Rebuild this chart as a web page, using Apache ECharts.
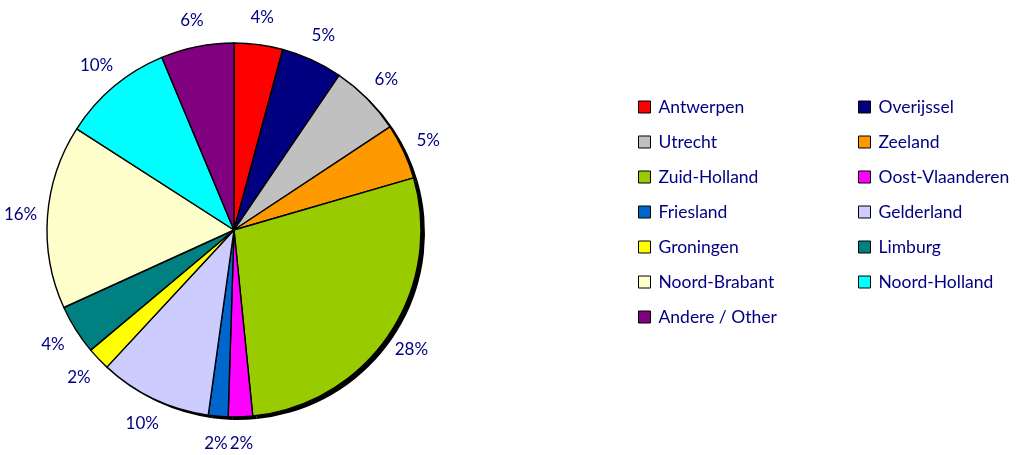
<!DOCTYPE html>
<html>
<head>
<meta charset="utf-8">
<script src="https://cdn.jsdelivr.net/npm/echarts@6/dist/echarts.min.js"></script>
<style>
  html, body { margin: 0; padding: 0; background: #fff; }
  #chart { width: 1018px; height: 455px; }
</style>
</head>
<body>
<div id="chart"></div>
<script>
const regions = ['Antwerpen', 'Overijssel', 'Utrecht', 'Zeeland', 'Zuid-Holland', 'Oost-Vlaanderen',
  'Friesland', 'Gelderland', 'Groningen', 'Limburg', 'Noord-Brabant', 'Noord-Holland', 'Andere / Other']
const shares = [4.2, 5.3, 6.2, 4.8, 27.9, 2.1, 1.7, 9.7, 2.0, 4.3, 15.9, 9.6, 6.3]
const colors = ['#FF0000', '#000080', '#C0C0C0', '#FF9900', '#99CC00', '#FF00FF',
  '#0066CC', '#CCCCFF', '#FFFF00', '#008080', '#FFFFCC', '#00FFFF', '#800080']

const textColor = '#000080'
const font = 'Lato'
const cx = 234, cy = 230, r = 187, labelR = 214

const pieData = regions.map((name, i) => ({ name, value: shares[i], itemStyle: { color: colors[i] } }))
const shadowData = regions.map((name, i) => ({ name, value: shares[i] }))

const legendBase = {
  orient: 'vertical',
  top: 93,
  icon: 'rect',
  itemWidth: 12,
  itemHeight: 12,
  itemGap: 17,
  selectedMode: false,
  itemStyle: { borderColor: '#000', borderWidth: 1 },
  textStyle: { color: textColor, fontFamily: font, fontSize: 17.5, lineHeight: 18, padding: [0, 0, 0, 3] }
}

const chart = echarts.init(document.getElementById('chart'))
chart.setOption({
  animation: false,
  legend: [
    { ...legendBase, left: 633, data: regions.filter((_, i) => i % 2 === 0) },
    { ...legendBase, left: 853, data: regions.filter((_, i) => i % 2 === 1) }
  ],
  series: [
    {
      type: 'pie',
      z: 3,
      center: [cx, cy],
      radius: r,
      startAngle: 90,
      clockwise: true,
      avoidLabelOverlap: false,
      itemStyle: { borderColor: '#000', borderWidth: 1.4 },
      emphasis: { disabled: true },
      label: {
        show: true,
        position: 'outside',
        color: textColor,
        fontFamily: font,
        fontSize: 17,
        formatter: p => Math.round(p.percent) + '%'
      },
      labelLine: { show: false, length: 10, length2: 0 },
      // put each label centred on a ring around the pie
      labelLayout: p => {
        const [x0, y0] = p.labelLinePoints[0]
        const dx = x0 - cx, dy = y0 - cy
        const k = labelR / Math.hypot(dx, dy)
        return { x: cx + dx * k, y: cy + dy * k, align: 'center', verticalAlign: 'middle' }
      },
      data: pieData
    },
    {
      // drop shadow
      type: 'pie',
      z: 1,
      silent: true,
      center: [cx + 4, cy + 3],
      radius: r,
      startAngle: 90,
      label: { show: false },
      labelLine: { show: false },
      itemStyle: { color: '#000' },
      emphasis: { disabled: true },
      data: shadowData
    }
  ]
})
</script>
</body>
</html>
